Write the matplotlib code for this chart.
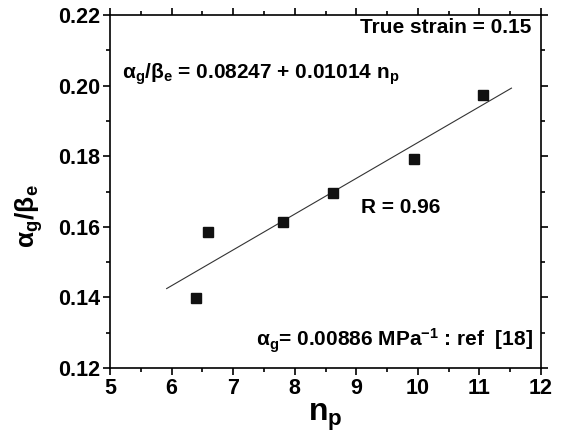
import matplotlib
matplotlib.use("Agg")
import matplotlib.pyplot as plt
import numpy as np
from matplotlib.ticker import MultipleLocator

main = 'Liberation Sans'
plt.rcParams['font.family'] = [main, 'DejaVu Sans']
plt.rcParams['font.weight'] = 'bold'
plt.rcParams['mathtext.fontset'] = 'custom'
plt.rcParams['mathtext.rm'] = main + ':bold'
plt.rcParams['mathtext.it'] = main + ':bold'
plt.rcParams['mathtext.bf'] = main + ':bold'
plt.rcParams['mathtext.sf'] = main + ':bold'
plt.rcParams['mathtext.default'] = 'rm'

# data
n_p = [6.39, 6.59, 7.81, 8.62, 9.93, 11.05]
ratio = [0.1398, 0.1584, 0.1615, 0.1696, 0.1793, 0.1973]
intercept = 0.08247
slope = 0.01014
fit_x = [5.92, 11.52]
x_ticks = [5, 6, 7, 8, 9, 10, 11, 12]
y_ticks = [0.12, 0.14, 0.16, 0.18, 0.20, 0.22]

L, R, T, B = 110, 541, 15, 368
fig = plt.figure(figsize=(5.62, 4.37), dpi=100)
ax = fig.add_axes([L/562, 1-B/437, (R-L)/562, (B-T)/437])

ax.plot(n_p, ratio, 's', color='#111111', markersize=6.5, zorder=3)
fx = np.array(fit_x)
ax.plot(fx, intercept + slope*fx, '-', color='#333333', lw=0.8)

ax.set_xlim(5, 12)
ax.set_ylim(0.12, 0.22)
ax.set_xticks(x_ticks)
ax.set_yticks(y_ticks)
ax.set_yticklabels([f"{v:.2f}" for v in y_ticks])
ax.xaxis.set_minor_locator(MultipleLocator(0.5))
ax.yaxis.set_minor_locator(MultipleLocator(0.01))
ax.tick_params(which='both', direction='out', labelsize=15.5, width=1.2, pad=2)
ax.tick_params(which='major', length=5)
ax.tick_params(which='minor', length=3)
ax.tick_params(which='both', top=True, right=True)
for lab in ax.get_xticklabels() + ax.get_yticklabels():
    lab.set_fontweight('bold')
for s in ax.spines.values():
    s.set_linewidth(1.2)

ax.set_xlabel(r'$n_p$', fontsize=23, fontweight='bold')
ax.xaxis.set_label_coords(0.5, -0.095)
ax.set_ylabel(r'$\alpha_g/\beta_e$', fontsize=19, fontweight='bold')
ax.yaxis.set_label_coords(-0.15, 0.43)

fs = 15
ax.text(11.85, 0.2165, 'True strain = 0.15', ha='right', va='center', fontsize=fs, fontweight='bold')
ax.text(5.2, 0.2033, r'$\alpha_g/\beta_e$ = 0.08247 + 0.01014 $n_p$',
        ha='left', va='center', fontsize=fs, fontweight='bold')
ax.text(9.07, 0.1655, 'R = 0.96', ha='left', va='center', fontsize=fs, fontweight='bold')
ax.text(11.87, 0.1276, r'$\alpha_g$= 0.00886 MPa$^{-1}$ : ref  [18]',
        ha='right', va='center', fontsize=fs, fontweight='bold')

fig.savefig('out.png', dpi=100)
